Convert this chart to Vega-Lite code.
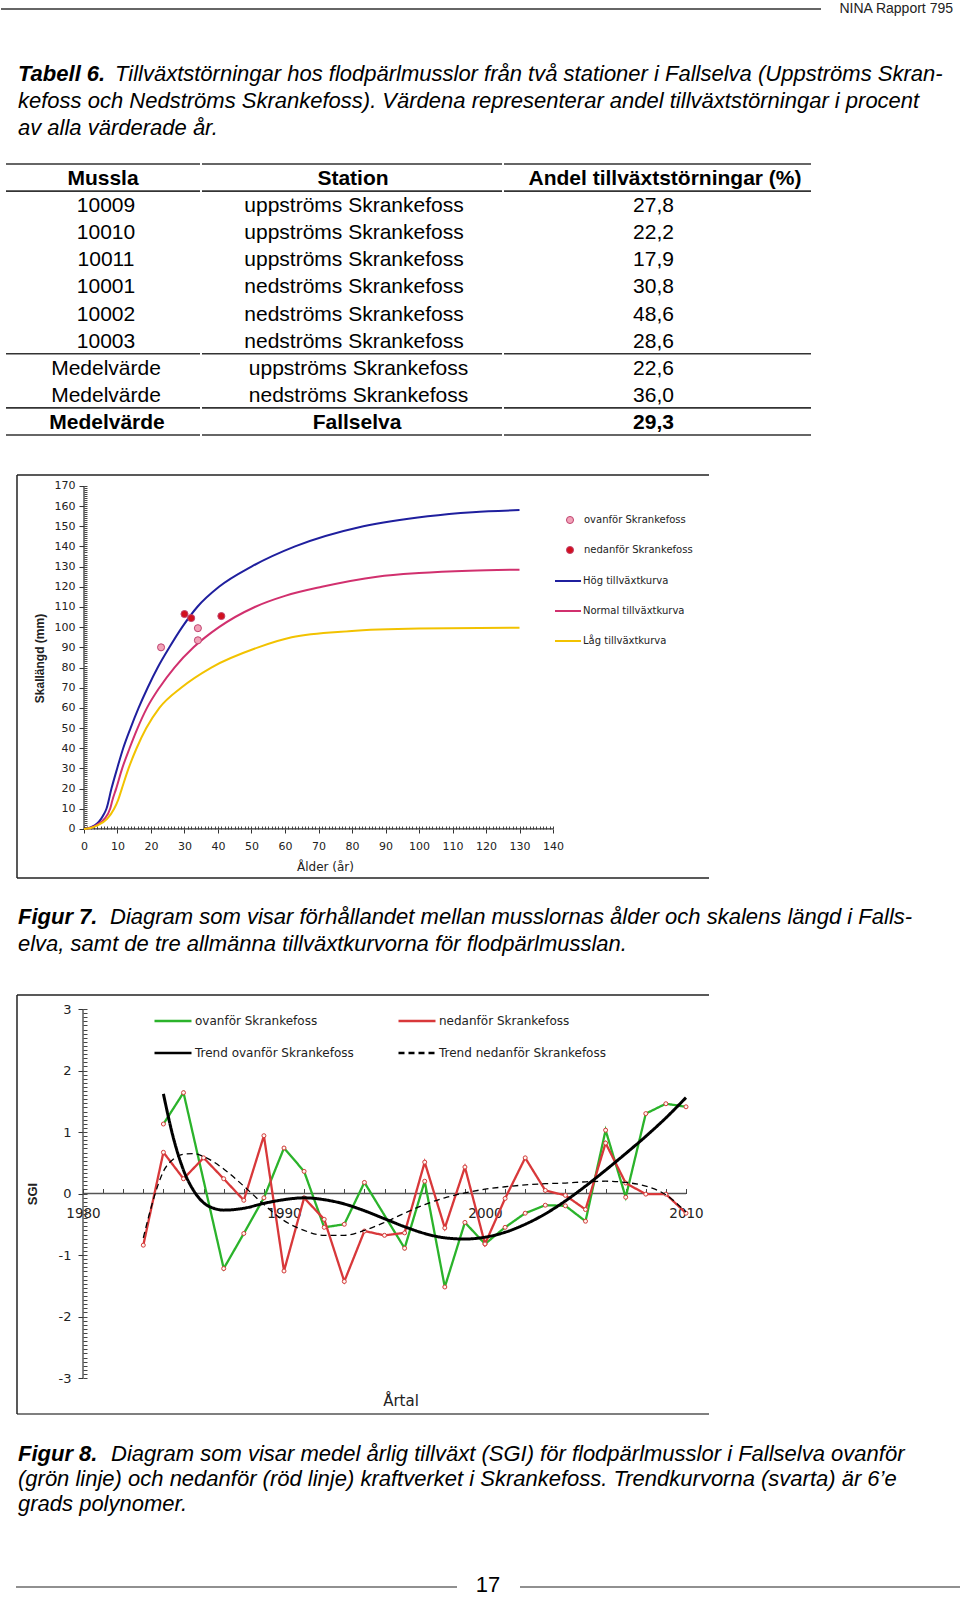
{
"$schema": "https://vega.github.io/schema/vega-lite/v6.json",
"padding": 0,
"background": "white",
"bounds": "flush",
"spacing": 0,
"config": {"view": {"stroke": null}, "axis": {"grid": false}, "text": {"font": "Liberation Sans"}},
"resolve": {"scale": {"stroke": "independent", "strokeDash": "independent", "fill": "independent", "x": "independent", "y": "independent"}, "legend": {"stroke": "independent", "strokeDash": "independent", "fill": "independent"}},
"datasets": {
"tabell": [
{"nr":1,"Mussla":"Mussla","Station":"Station","Andel":"Andel tillväxtstörningar (%)","typ":"rubrik","linje":1},
{"nr":2,"Mussla":"10009","Station":"uppströms Skrankefoss","Andel":"27,8","typ":"normal","linje":0},
{"nr":3,"Mussla":"10010","Station":"uppströms Skrankefoss","Andel":"22,2","typ":"normal","linje":0},
{"nr":4,"Mussla":"10011","Station":"uppströms Skrankefoss","Andel":"17,9","typ":"normal","linje":0},
{"nr":5,"Mussla":"10001","Station":"nedströms Skrankefoss","Andel":"30,8","typ":"normal","linje":0},
{"nr":6,"Mussla":"10002","Station":"nedströms Skrankefoss","Andel":"48,6","typ":"normal","linje":0},
{"nr":7,"Mussla":"10003","Station":"nedströms Skrankefoss","Andel":"28,6","typ":"normal","linje":1},
{"nr":8,"Mussla":"Medelvärde","Station":"uppströms Skrankefoss","Andel":"22,6","typ":"medel","linje":0},
{"nr":9,"Mussla":"Medelvärde","Station":"nedströms Skrankefoss","Andel":"36,0","typ":"medel","linje":1},
{"nr":10,"Mussla":"Medelvärde","Station":"Fallselva","Andel":"29,3","typ":"fet","linje":1}
],
"kurvor": [
{"alder":0,"langd":0,"kurva":"Hög tillväxtkurva"},{"alder":2,"langd":0.8,"kurva":"Hög tillväxtkurva"},{"alder":4,"langd":2.8,"kurva":"Hög tillväxtkurva"},{"alder":5.1,"langd":5,"kurva":"Hög tillväxtkurva"},{"alder":6,"langd":7.5,"kurva":"Hög tillväxtkurva"},{"alder":6.7,"langd":10,"kurva":"Hög tillväxtkurva"},{"alder":8.2,"langd":20,"kurva":"Hög tillväxtkurva"},{"alder":9.9,"langd":30,"kurva":"Hög tillväxtkurva"},{"alder":11.7,"langd":40,"kurva":"Hög tillväxtkurva"},{"alder":13.9,"langd":50,"kurva":"Hög tillväxtkurva"},{"alder":16.3,"langd":60,"kurva":"Hög tillväxtkurva"},{"alder":19,"langd":70,"kurva":"Hög tillväxtkurva"},{"alder":22,"langd":80,"kurva":"Hög tillväxtkurva"},{"alder":25.5,"langd":90,"kurva":"Hög tillväxtkurva"},{"alder":29.3,"langd":100,"kurva":"Hög tillväxtkurva"},{"alder":33.8,"langd":110,"kurva":"Hög tillväxtkurva"},{"alder":40.3,"langd":120,"kurva":"Hög tillväxtkurva"},{"alder":50,"langd":130,"kurva":"Hög tillväxtkurva"},{"alder":63,"langd":140,"kurva":"Hög tillväxtkurva"},{"alder":83.4,"langd":150,"kurva":"Hög tillväxtkurva"},{"alder":102.6,"langd":155,"kurva":"Hög tillväxtkurva"},{"alder":116,"langd":157,"kurva":"Hög tillväxtkurva"},{"alder":130,"langd":158,"kurva":"Hög tillväxtkurva"},
{"alder":0,"langd":0,"kurva":"Normal tillväxtkurva"},{"alder":2,"langd":0.6,"kurva":"Normal tillväxtkurva"},{"alder":4,"langd":2.2,"kurva":"Normal tillväxtkurva"},{"alder":6.1,"langd":5,"kurva":"Normal tillväxtkurva"},{"alder":7.8,"langd":10,"kurva":"Normal tillväxtkurva"},{"alder":8.5,"langd":14.4,"kurva":"Normal tillväxtkurva"},{"alder":9.6,"langd":20,"kurva":"Normal tillväxtkurva"},{"alder":11.4,"langd":30,"kurva":"Normal tillväxtkurva"},{"alder":13.6,"langd":40,"kurva":"Normal tillväxtkurva"},{"alder":16,"langd":50,"kurva":"Normal tillväxtkurva"},{"alder":18.8,"langd":60,"kurva":"Normal tillväxtkurva"},{"alder":22.5,"langd":70,"kurva":"Normal tillväxtkurva"},{"alder":27,"langd":80,"kurva":"Normal tillväxtkurva"},{"alder":32.7,"langd":90,"kurva":"Normal tillväxtkurva"},{"alder":40.3,"langd":100,"kurva":"Normal tillväxtkurva"},{"alder":51,"langd":110,"kurva":"Normal tillväxtkurva"},{"alder":60,"langd":115.5,"kurva":"Normal tillväxtkurva"},{"alder":71,"langd":120,"kurva":"Normal tillväxtkurva"},{"alder":87.5,"langd":125,"kurva":"Normal tillväxtkurva"},{"alder":100,"langd":126.8,"kurva":"Normal tillväxtkurva"},{"alder":115,"langd":128,"kurva":"Normal tillväxtkurva"},{"alder":130,"langd":128.5,"kurva":"Normal tillväxtkurva"},
{"alder":0,"langd":0,"kurva":"Låg tillväxtkurva"},{"alder":2,"langd":0.5,"kurva":"Låg tillväxtkurva"},{"alder":4,"langd":1.8,"kurva":"Låg tillväxtkurva"},{"alder":6.9,"langd":5,"kurva":"Låg tillväxtkurva"},{"alder":9,"langd":10,"kurva":"Låg tillväxtkurva"},{"alder":10.2,"langd":14.4,"kurva":"Låg tillväxtkurva"},{"alder":11.3,"langd":20,"kurva":"Låg tillväxtkurva"},{"alder":13.3,"langd":30,"kurva":"Låg tillväxtkurva"},{"alder":15.7,"langd":40,"kurva":"Låg tillväxtkurva"},{"alder":18.6,"langd":50,"kurva":"Låg tillväxtkurva"},{"alder":22.5,"langd":60,"kurva":"Låg tillväxtkurva"},{"alder":29,"langd":70,"kurva":"Låg tillväxtkurva"},{"alder":38,"langd":80,"kurva":"Låg tillväxtkurva"},{"alder":52,"langd":90,"kurva":"Låg tillväxtkurva"},{"alder":62,"langd":95,"kurva":"Låg tillväxtkurva"},{"alder":79,"langd":98,"kurva":"Låg tillväxtkurva"},{"alder":100,"langd":99.3,"kurva":"Låg tillväxtkurva"},{"alder":130,"langd":99.7,"kurva":"Låg tillväxtkurva"}
],
"musslor": [
{"alder":23,"langd":90,"grupp":"ovanför Skrankefoss"},
{"alder":34,"langd":99.5,"grupp":"ovanför Skrankefoss"},
{"alder":34,"langd":93.5,"grupp":"ovanför Skrankefoss"},
{"alder":30,"langd":106.5,"grupp":"nedanför Skrankefoss"},
{"alder":32,"langd":104.5,"grupp":"nedanför Skrankefoss"},
{"alder":41,"langd":105.5,"grupp":"nedanför Skrankefoss"}
],
"sgi": [
{"ar":1984,"sgi":1.13,"serie":"ovanför Skrankefoss"},{"ar":1985,"sgi":1.64,"serie":"ovanför Skrankefoss"},{"ar":1987,"sgi":-1.22,"serie":"ovanför Skrankefoss"},{"ar":1988,"sgi":-0.65,"serie":"ovanför Skrankefoss"},{"ar":1989,"sgi":-0.07,"serie":"ovanför Skrankefoss"},{"ar":1990,"sgi":0.74,"serie":"ovanför Skrankefoss"},{"ar":1991,"sgi":0.36,"serie":"ovanför Skrankefoss"},{"ar":1992,"sgi":-0.55,"serie":"ovanför Skrankefoss"},{"ar":1993,"sgi":-0.5,"serie":"ovanför Skrankefoss"},{"ar":1994,"sgi":0.18,"serie":"ovanför Skrankefoss"},{"ar":1996,"sgi":-0.89,"serie":"ovanför Skrankefoss"},{"ar":1997,"sgi":0.2,"serie":"ovanför Skrankefoss"},{"ar":1998,"sgi":-1.52,"serie":"ovanför Skrankefoss"},{"ar":1999,"sgi":-0.47,"serie":"ovanför Skrankefoss"},{"ar":2000,"sgi":-0.82,"serie":"ovanför Skrankefoss"},{"ar":2001,"sgi":-0.55,"serie":"ovanför Skrankefoss"},{"ar":2002,"sgi":-0.32,"serie":"ovanför Skrankefoss"},{"ar":2003,"sgi":-0.19,"serie":"ovanför Skrankefoss"},{"ar":2004,"sgi":-0.2,"serie":"ovanför Skrankefoss"},{"ar":2005,"sgi":-0.45,"serie":"ovanför Skrankefoss"},{"ar":2006,"sgi":1.03,"serie":"ovanför Skrankefoss"},{"ar":2007,"sgi":-0.06,"serie":"ovanför Skrankefoss"},{"ar":2008,"sgi":1.3,"serie":"ovanför Skrankefoss"},{"ar":2009,"sgi":1.46,"serie":"ovanför Skrankefoss"},{"ar":2010,"sgi":1.41,"serie":"ovanför Skrankefoss"},
{"ar":1983,"sgi":-0.84,"serie":"nedanför Skrankefoss"},{"ar":1984,"sgi":0.67,"serie":"nedanför Skrankefoss"},{"ar":1985,"sgi":0.24,"serie":"nedanför Skrankefoss"},{"ar":1986,"sgi":0.58,"serie":"nedanför Skrankefoss"},{"ar":1987,"sgi":0.24,"serie":"nedanför Skrankefoss"},{"ar":1988,"sgi":-0.11,"serie":"nedanför Skrankefoss"},{"ar":1989,"sgi":0.94,"serie":"nedanför Skrankefoss"},{"ar":1990,"sgi":-1.26,"serie":"nedanför Skrankefoss"},{"ar":1991,"sgi":-0.07,"serie":"nedanför Skrankefoss"},{"ar":1992,"sgi":-0.42,"serie":"nedanför Skrankefoss"},{"ar":1993,"sgi":-1.43,"serie":"nedanför Skrankefoss"},{"ar":1994,"sgi":-0.61,"serie":"nedanför Skrankefoss"},{"ar":1995,"sgi":-0.68,"serie":"nedanför Skrankefoss"},{"ar":1996,"sgi":-0.64,"serie":"nedanför Skrankefoss"},{"ar":1997,"sgi":0.51,"serie":"nedanför Skrankefoss"},{"ar":1998,"sgi":-0.56,"serie":"nedanför Skrankefoss"},{"ar":1999,"sgi":0.43,"serie":"nedanför Skrankefoss"},{"ar":2000,"sgi":-0.82,"serie":"nedanför Skrankefoss"},{"ar":2001,"sgi":-0.08,"serie":"nedanför Skrankefoss"},{"ar":2002,"sgi":0.58,"serie":"nedanför Skrankefoss"},{"ar":2003,"sgi":0.05,"serie":"nedanför Skrankefoss"},{"ar":2004,"sgi":-0.03,"serie":"nedanför Skrankefoss"},{"ar":2005,"sgi":-0.26,"serie":"nedanför Skrankefoss"},{"ar":2006,"sgi":0.82,"serie":"nedanför Skrankefoss"},{"ar":2007,"sgi":0.17,"serie":"nedanför Skrankefoss"},{"ar":2008,"sgi":-0.01,"serie":"nedanför Skrankefoss"},{"ar":2009,"sgi":-0.01,"serie":"nedanför Skrankefoss"},{"ar":2010,"sgi":-0.32,"serie":"nedanför Skrankefoss"}
],
"trendOvan": [
{"ar":1984,"sgi":1.62,"serie":"Trend ovanför Skrankefoss"},{"ar":1984.5,"sgi":0.9,"serie":"Trend ovanför Skrankefoss"},{"ar":1985,"sgi":0.38,"serie":"Trend ovanför Skrankefoss"},{"ar":1985.5,"sgi":0.05,"serie":"Trend ovanför Skrankefoss"},{"ar":1986,"sgi":-0.15,"serie":"Trend ovanför Skrankefoss"},{"ar":1986.5,"sgi":-0.24,"serie":"Trend ovanför Skrankefoss"},{"ar":1987,"sgi":-0.27,"serie":"Trend ovanför Skrankefoss"},{"ar":1988,"sgi":-0.24,"serie":"Trend ovanför Skrankefoss"},{"ar":1989,"sgi":-0.16,"serie":"Trend ovanför Skrankefoss"},{"ar":1990,"sgi":-0.1,"serie":"Trend ovanför Skrankefoss"},{"ar":1991,"sgi":-0.07,"serie":"Trend ovanför Skrankefoss"},{"ar":1992,"sgi":-0.1,"serie":"Trend ovanför Skrankefoss"},{"ar":1993,"sgi":-0.17,"serie":"Trend ovanför Skrankefoss"},{"ar":1994,"sgi":-0.28,"serie":"Trend ovanför Skrankefoss"},{"ar":1995,"sgi":-0.41,"serie":"Trend ovanför Skrankefoss"},{"ar":1996,"sgi":-0.54,"serie":"Trend ovanför Skrankefoss"},{"ar":1997,"sgi":-0.65,"serie":"Trend ovanför Skrankefoss"},{"ar":1998,"sgi":-0.72,"serie":"Trend ovanför Skrankefoss"},{"ar":1999,"sgi":-0.74,"serie":"Trend ovanför Skrankefoss"},{"ar":2000,"sgi":-0.71,"serie":"Trend ovanför Skrankefoss"},{"ar":2001,"sgi":-0.63,"serie":"Trend ovanför Skrankefoss"},{"ar":2002,"sgi":-0.5,"serie":"Trend ovanför Skrankefoss"},{"ar":2003,"sgi":-0.33,"serie":"Trend ovanför Skrankefoss"},{"ar":2004,"sgi":-0.12,"serie":"Trend ovanför Skrankefoss"},{"ar":2005,"sgi":0.12,"serie":"Trend ovanför Skrankefoss"},{"ar":2006,"sgi":0.38,"serie":"Trend ovanför Skrankefoss"},{"ar":2007,"sgi":0.65,"serie":"Trend ovanför Skrankefoss"},{"ar":2008,"sgi":0.93,"serie":"Trend ovanför Skrankefoss"},{"ar":2009,"sgi":1.23,"serie":"Trend ovanför Skrankefoss"},{"ar":2010,"sgi":1.56,"serie":"Trend ovanför Skrankefoss"}
],
"trendNedan": [
{"ar":1983,"sgi":-0.72,"serie":"Trend nedanför Skrankefoss"},{"ar":1983.5,"sgi":-0.1,"serie":"Trend nedanför Skrankefoss"},{"ar":1984,"sgi":0.36,"serie":"Trend nedanför Skrankefoss"},{"ar":1984.5,"sgi":0.56,"serie":"Trend nedanför Skrankefoss"},{"ar":1985,"sgi":0.64,"serie":"Trend nedanför Skrankefoss"},{"ar":1985.5,"sgi":0.65,"serie":"Trend nedanför Skrankefoss"},{"ar":1986,"sgi":0.6,"serie":"Trend nedanför Skrankefoss"},{"ar":1987,"sgi":0.4,"serie":"Trend nedanför Skrankefoss"},{"ar":1988,"sgi":0.12,"serie":"Trend nedanför Skrankefoss"},{"ar":1989,"sgi":-0.18,"serie":"Trend nedanför Skrankefoss"},{"ar":1990,"sgi":-0.44,"serie":"Trend nedanför Skrankefoss"},{"ar":1991,"sgi":-0.6,"serie":"Trend nedanför Skrankefoss"},{"ar":1992,"sgi":-0.68,"serie":"Trend nedanför Skrankefoss"},{"ar":1993,"sgi":-0.68,"serie":"Trend nedanför Skrankefoss"},{"ar":1994,"sgi":-0.6,"serie":"Trend nedanför Skrankefoss"},{"ar":1995,"sgi":-0.47,"serie":"Trend nedanför Skrankefoss"},{"ar":1996,"sgi":-0.32,"serie":"Trend nedanför Skrankefoss"},{"ar":1997,"sgi":-0.18,"serie":"Trend nedanför Skrankefoss"},{"ar":1998,"sgi":-0.07,"serie":"Trend nedanför Skrankefoss"},{"ar":1999,"sgi":0.01,"serie":"Trend nedanför Skrankefoss"},{"ar":2000,"sgi":0.07,"serie":"Trend nedanför Skrankefoss"},{"ar":2001,"sgi":0.11,"serie":"Trend nedanför Skrankefoss"},{"ar":2002,"sgi":0.14,"serie":"Trend nedanför Skrankefoss"},{"ar":2003,"sgi":0.16,"serie":"Trend nedanför Skrankefoss"},{"ar":2004,"sgi":0.17,"serie":"Trend nedanför Skrankefoss"},{"ar":2005,"sgi":0.19,"serie":"Trend nedanför Skrankefoss"},{"ar":2006,"sgi":0.2,"serie":"Trend nedanför Skrankefoss"},{"ar":2007,"sgi":0.18,"serie":"Trend nedanför Skrankefoss"},{"ar":2008,"sgi":0.12,"serie":"Trend nedanför Skrankefoss"},{"ar":2009,"sgi":-0.02,"serie":"Trend nedanför Skrankefoss"},{"ar":2010,"sgi":-0.3,"serie":"Trend nedanför Skrankefoss"}
]
},
"vconcat": [
{"width": 960, "height": 18, "data": {"values": [{"t": "NINA Rapport 795"}]}, "layer": [
  {"mark": {"type": "rule", "color": "#333", "strokeWidth": 1.5}, "encoding": {"x": {"datum": 0, "type": "quantitative", "scale": {"domain": [0, 960], "nice": false, "zero": false}, "axis": null}, "x2": {"datum": 820}, "y": {"datum": 0, "type": "quantitative", "scale": {"domain": [-1, 1]}, "axis": null}}},
  {"mark": {"type": "text", "font": "Liberation Sans", "fontSize": 14, "color": "#222", "baseline": "middle", "align": "right"}, "encoding": {"x": {"datum": 952, "type": "quantitative", "scale": {"domain": [0, 960], "nice": false, "zero": false}, "axis": null}, "y": {"datum": 0, "type": "quantitative", "scale": {"domain": [-1, 1]}, "axis": null}, "text": {"field": "t"}}}
]},
{"width": 960, "height": 42, "data": {"values": []}, "mark": "point"},
{"width": 960, "height": 81, "layer": [
  {"data": {"values": [{"rad": 1, "t": "Tabell 6."}]}, "mark": {"type": "text", "align": "left", "baseline": "middle", "font": "Liberation Sans", "fontSize": 22, "fontStyle": "italic", "fontWeight": "bold", "color": "#000"}, "encoding": {"x": {"datum": 17, "type": "quantitative", "scale": {"domain": [0, 960], "nice": false, "zero": false}, "axis": null}, "y": {"field": "rad", "type": "ordinal", "scale": {"domain": [1, 2, 3]}, "axis": null}, "text": {"field": "t"}}},
  {"data": {"values": [{"rad": 1, "t": "Tillväxtstörningar hos flodpärlmusslor från två stationer i Fallselva (Uppströms Skran-"}]}, "mark": {"type": "text", "align": "left", "baseline": "middle", "font": "Liberation Sans", "fontSize": 22, "fontStyle": "italic", "color": "#000"}, "encoding": {"x": {"datum": 114, "type": "quantitative", "scale": {"domain": [0, 960], "nice": false, "zero": false}, "axis": null}, "y": {"field": "rad", "type": "ordinal", "scale": {"domain": [1, 2, 3]}, "axis": null}, "text": {"field": "t"}}},
  {"data": {"values": [{"rad": 2, "t": "kefoss och Nedströms Skrankefoss). Värdena representerar andel tillväxtstörningar i procent"}, {"rad": 3, "t": "av alla värderade år."}]}, "mark": {"type": "text", "align": "left", "baseline": "middle", "font": "Liberation Sans", "fontSize": 22, "fontStyle": "italic", "color": "#000"}, "encoding": {"x": {"datum": 17, "type": "quantitative", "scale": {"domain": [0, 960], "nice": false, "zero": false}, "axis": null}, "y": {"field": "rad", "type": "ordinal", "scale": {"domain": [1, 2, 3]}, "axis": null}, "text": {"field": "t"}}}
]},
{"width": 960, "height": 23, "data": {"values": []}, "mark": "point"},
{"width": 960, "height": 271, "data": {"name": "tabell"}, "layer": [
  {"transform": [{"filter": {"field": "typ", "equal": "rubrik"}}], "mark": {"type": "text", "fontSize": 21, "fontWeight": "bold", "color": "#000", "baseline": "middle", "dy": 1.5}, "encoding": {"x": {"datum": 102, "type": "quantitative", "scale": {"domain": [0, 960], "nice": false, "zero": false}, "axis": null}, "y": {"field": "nr", "type": "ordinal", "scale": {"type": "band", "domain": [1,2,3,4,5,6,7,8,9,10], "paddingInner": 0, "paddingOuter": 0}, "axis": null}, "text": {"field": "Mussla"}}},
  {"transform": [{"filter": {"field": "typ", "oneOf": ["normal", "medel"]}}], "mark": {"type": "text", "fontSize": 21, "color": "#000", "baseline": "middle", "dy": 1.5}, "encoding": {"x": {"datum": 105, "type": "quantitative", "scale": {"domain": [0, 960], "nice": false, "zero": false}, "axis": null}, "y": {"field": "nr", "type": "ordinal", "scale": {"type": "band", "domain": [1,2,3,4,5,6,7,8,9,10], "paddingInner": 0, "paddingOuter": 0}, "axis": null}, "text": {"field": "Mussla"}}},
  {"transform": [{"filter": {"field": "typ", "equal": "fet"}}], "mark": {"type": "text", "fontSize": 21, "fontWeight": "bold", "color": "#000", "baseline": "middle", "dy": 1.5}, "encoding": {"x": {"datum": 106, "type": "quantitative", "scale": {"domain": [0, 960], "nice": false, "zero": false}, "axis": null}, "y": {"field": "nr", "type": "ordinal", "scale": {"type": "band", "domain": [1,2,3,4,5,6,7,8,9,10], "paddingInner": 0, "paddingOuter": 0}, "axis": null}, "text": {"field": "Mussla"}}},
  {"transform": [{"filter": {"field": "typ", "equal": "rubrik"}}], "mark": {"type": "text", "fontSize": 21, "fontWeight": "bold", "color": "#000", "baseline": "middle", "dy": 1.5}, "encoding": {"x": {"datum": 352, "type": "quantitative", "scale": {"domain": [0, 960], "nice": false, "zero": false}, "axis": null}, "y": {"field": "nr", "type": "ordinal", "scale": {"type": "band", "domain": [1,2,3,4,5,6,7,8,9,10], "paddingInner": 0, "paddingOuter": 0}, "axis": null}, "text": {"field": "Station"}}},
  {"transform": [{"filter": {"field": "typ", "equal": "normal"}}], "mark": {"type": "text", "fontSize": 21, "color": "#000", "baseline": "middle", "dy": 1.5}, "encoding": {"x": {"datum": 353, "type": "quantitative", "scale": {"domain": [0, 960], "nice": false, "zero": false}, "axis": null}, "y": {"field": "nr", "type": "ordinal", "scale": {"type": "band", "domain": [1,2,3,4,5,6,7,8,9,10], "paddingInner": 0, "paddingOuter": 0}, "axis": null}, "text": {"field": "Station"}}},
  {"transform": [{"filter": {"field": "typ", "equal": "medel"}}], "mark": {"type": "text", "fontSize": 21, "color": "#000", "baseline": "middle", "dy": 1.5}, "encoding": {"x": {"datum": 357.5, "type": "quantitative", "scale": {"domain": [0, 960], "nice": false, "zero": false}, "axis": null}, "y": {"field": "nr", "type": "ordinal", "scale": {"type": "band", "domain": [1,2,3,4,5,6,7,8,9,10], "paddingInner": 0, "paddingOuter": 0}, "axis": null}, "text": {"field": "Station"}}},
  {"transform": [{"filter": {"field": "typ", "equal": "fet"}}], "mark": {"type": "text", "fontSize": 21, "fontWeight": "bold", "color": "#000", "baseline": "middle", "dy": 1.5}, "encoding": {"x": {"datum": 356, "type": "quantitative", "scale": {"domain": [0, 960], "nice": false, "zero": false}, "axis": null}, "y": {"field": "nr", "type": "ordinal", "scale": {"type": "band", "domain": [1,2,3,4,5,6,7,8,9,10], "paddingInner": 0, "paddingOuter": 0}, "axis": null}, "text": {"field": "Station"}}},
  {"transform": [{"filter": {"field": "typ", "equal": "rubrik"}}], "mark": {"type": "text", "fontSize": 21, "fontWeight": "bold", "color": "#000", "baseline": "middle", "dy": 1.5}, "encoding": {"x": {"datum": 664, "type": "quantitative", "scale": {"domain": [0, 960], "nice": false, "zero": false}, "axis": null}, "y": {"field": "nr", "type": "ordinal", "scale": {"type": "band", "domain": [1,2,3,4,5,6,7,8,9,10], "paddingInner": 0, "paddingOuter": 0}, "axis": null}, "text": {"field": "Andel"}}},
  {"transform": [{"filter": {"field": "typ", "oneOf": ["normal", "medel"]}}], "mark": {"type": "text", "fontSize": 21, "color": "#000", "baseline": "middle", "dy": 1.5}, "encoding": {"x": {"datum": 652.5, "type": "quantitative", "scale": {"domain": [0, 960], "nice": false, "zero": false}, "axis": null}, "y": {"field": "nr", "type": "ordinal", "scale": {"type": "band", "domain": [1,2,3,4,5,6,7,8,9,10], "paddingInner": 0, "paddingOuter": 0}, "axis": null}, "text": {"field": "Andel"}}},
  {"transform": [{"filter": {"field": "typ", "equal": "fet"}}], "mark": {"type": "text", "fontSize": 21, "fontWeight": "bold", "color": "#000", "baseline": "middle", "dy": 1.5}, "encoding": {"x": {"datum": 652.5, "type": "quantitative", "scale": {"domain": [0, 960], "nice": false, "zero": false}, "axis": null}, "y": {"field": "nr", "type": "ordinal", "scale": {"type": "band", "domain": [1,2,3,4,5,6,7,8,9,10], "paddingInner": 0, "paddingOuter": 0}, "axis": null}, "text": {"field": "Andel"}}},
  {"transform": [{"filter": {"field": "nr", "equal": 1}}], "mark": {"type": "rule", "color": "#333", "strokeWidth": 1.6}, "encoding": {"x": {"datum": 5, "type": "quantitative", "scale": {"domain": [0, 960], "nice": false, "zero": false}, "axis": null}, "x2": {"datum": 199}, "y": {"field": "nr", "type": "ordinal", "bandPosition": 0, "scale": {"type": "band", "domain": [1,2,3,4,5,6,7,8,9,10], "paddingInner": 0, "paddingOuter": 0}, "axis": null}}},
  {"transform": [{"filter": {"field": "nr", "equal": 1}}], "mark": {"type": "rule", "color": "#333", "strokeWidth": 1.6}, "encoding": {"x": {"datum": 201, "type": "quantitative", "scale": {"domain": [0, 960], "nice": false, "zero": false}, "axis": null}, "x2": {"datum": 501}, "y": {"field": "nr", "type": "ordinal", "bandPosition": 0, "scale": {"type": "band", "domain": [1,2,3,4,5,6,7,8,9,10], "paddingInner": 0, "paddingOuter": 0}, "axis": null}}},
  {"transform": [{"filter": {"field": "nr", "equal": 1}}], "mark": {"type": "rule", "color": "#333", "strokeWidth": 1.6}, "encoding": {"x": {"datum": 503, "type": "quantitative", "scale": {"domain": [0, 960], "nice": false, "zero": false}, "axis": null}, "x2": {"datum": 810}, "y": {"field": "nr", "type": "ordinal", "bandPosition": 0, "scale": {"type": "band", "domain": [1,2,3,4,5,6,7,8,9,10], "paddingInner": 0, "paddingOuter": 0}, "axis": null}}},
  {"transform": [{"filter": {"field": "linje", "equal": 1}}], "mark": {"type": "rule", "color": "#333", "strokeWidth": 1.6}, "encoding": {"x": {"datum": 5, "type": "quantitative", "scale": {"domain": [0, 960], "nice": false, "zero": false}, "axis": null}, "x2": {"datum": 199}, "y": {"field": "nr", "type": "ordinal", "bandPosition": 1, "scale": {"type": "band", "domain": [1,2,3,4,5,6,7,8,9,10], "paddingInner": 0, "paddingOuter": 0}, "axis": null}}},
  {"transform": [{"filter": {"field": "linje", "equal": 1}}], "mark": {"type": "rule", "color": "#333", "strokeWidth": 1.6}, "encoding": {"x": {"datum": 201, "type": "quantitative", "scale": {"domain": [0, 960], "nice": false, "zero": false}, "axis": null}, "x2": {"datum": 501}, "y": {"field": "nr", "type": "ordinal", "bandPosition": 1, "scale": {"type": "band", "domain": [1,2,3,4,5,6,7,8,9,10], "paddingInner": 0, "paddingOuter": 0}, "axis": null}}},
  {"transform": [{"filter": {"field": "linje", "equal": 1}}], "mark": {"type": "rule", "color": "#333", "strokeWidth": 1.6}, "encoding": {"x": {"datum": 503, "type": "quantitative", "scale": {"domain": [0, 960], "nice": false, "zero": false}, "axis": null}, "x2": {"datum": 810}, "y": {"field": "nr", "type": "ordinal", "bandPosition": 1, "scale": {"type": "band", "domain": [1,2,3,4,5,6,7,8,9,10], "paddingInner": 0, "paddingOuter": 0}, "axis": null}}}
]},
{"width": 960, "height": 40, "data": {"values": []}, "mark": "point"},
{"width": 708, "height": 403, "layer": [
  {"data": {"values": [{}]}, "mark": {"type": "rule", "color": "#222", "strokeWidth": 1.5}, "encoding": {"x": {"datum": -20, "type": "quantitative", "scale": {"domain": [-24.776, 186.567], "nice": false, "zero": false}, "axis": null}, "x2": {"datum": 186.567}, "y": {"datum": 175.4, "type": "quantitative", "scale": {"domain": [-24.3, 175.4], "nice": false, "zero": false}, "axis": null}}},
  {"data": {"values": [{}]}, "mark": {"type": "rule", "color": "#222", "strokeWidth": 1.5}, "encoding": {"x": {"datum": -20, "type": "quantitative", "scale": {"domain": [-24.776, 186.567], "nice": false, "zero": false}, "axis": null}, "x2": {"datum": 186.567}, "y": {"datum": -24.3, "type": "quantitative", "scale": {"domain": [-24.3, 175.4], "nice": false, "zero": false}, "axis": null}}},
  {"data": {"values": [{}]}, "mark": {"type": "rule", "color": "#222", "strokeWidth": 1.5}, "encoding": {"x": {"datum": -20, "type": "quantitative", "scale": {"domain": [-24.776, 186.567], "nice": false, "zero": false}, "axis": null}}},
  {"data": {"values": [{}]}, "mark": {"type": "rule", "color": "#333", "strokeWidth": 1.2}, "encoding": {"x": {"datum": 0, "type": "quantitative", "scale": {"domain": [-24.776, 186.567], "nice": false, "zero": false}, "axis": null}, "y": {"datum": 0, "type": "quantitative", "scale": {"domain": [-24.3, 175.4], "nice": false, "zero": false}, "axis": null}, "y2": {"datum": 170}}},
  {"data": {"values": [{}]}, "mark": {"type": "rule", "color": "#333", "strokeWidth": 1.2}, "encoding": {"x": {"datum": 0, "type": "quantitative", "scale": {"domain": [-24.776, 186.567], "nice": false, "zero": false}, "axis": null}, "x2": {"datum": 140}, "y": {"datum": 0, "type": "quantitative", "scale": {"domain": [-24.3, 175.4], "nice": false, "zero": false}, "axis": null}}},
  {"data": {"name": "kurvor"}, "mark": {"type": "line", "strokeWidth": 2, "interpolate": "monotone"},
   "encoding": {
    "x": {"field": "alder", "type": "quantitative", "scale": {"domain": [-24.776, 186.567], "nice": false, "zero": false},
          "axis": {"orient": "bottom", "offset": -49, "values": [0,10,20,30,40,50,60,70,80,90,100,110,120,130,140], "domain": false, "ticks": true, "tickSize": 4, "tickColor": "#333", "tickWidth": 1, "labelFont": "DejaVu Sans", "labelFontSize": 11, "labelColor": "#222", "labelPadding": 7, "labelFlush": false, "labelOverlap": false, "grid": false, "title": "Ålder (år)", "titleFont": "DejaVu Sans", "titleFontSize": 12, "titleFontWeight": "normal", "titleColor": "#222", "titleX": 324, "titleY": 37, "titleAlign": "center", "titleBaseline": "middle", "titleAngle": 0}},
    "y": {"field": "langd", "type": "quantitative", "scale": {"domain": [-24.3, 175.4], "nice": false, "zero": false},
          "axis": {"orient": "left", "offset": -83, "values": [0,10,20,30,40,50,60,70,80,90,100,110,120,130,140,150,160,170], "domain": false, "ticks": true, "tickSize": 5, "tickColor": "#333", "tickWidth": 1, "labelFont": "DejaVu Sans", "labelFontSize": 11, "labelColor": "#222", "labelPadding": 4, "labelFlush": false, "labelOverlap": false, "grid": false, "title": "Skallängd (mm)", "titleFont": "Liberation Sans", "titleFontSize": 12, "titleFontWeight": "bold", "titleColor": "#222", "titleX": -45, "titleY": 183, "titleAngle": 270, "titleAlign": "center", "titleBaseline": "middle"}},
    "stroke": {"field": "kurva", "type": "nominal", "scale": {"domain": ["Hög tillväxtkurva", "Normal tillväxtkurva", "Låg tillväxtkurva"], "range": ["#1f1f9e", "#d1306e", "#f2c200"]},
          "legend": {"orient": "none", "legendX": 553, "legendY": 92, "title": null, "padding": 0, "rowPadding": 11, "labelFont": "DejaVu Sans", "labelFontSize": 10, "labelColor": "#222", "labelOffset": 1, "symbolType": "stroke", "symbolSize": 676, "symbolStrokeWidth": 2}}
   }},
  {"data": {"name": "musslor"}, "mark": {"type": "circle", "size": 50, "stroke": "#c04470", "strokeWidth": 1, "opacity": 1},
   "encoding": {
    "x": {"field": "alder", "type": "quantitative", "scale": {"domain": [-24.776, 186.567], "nice": false, "zero": false},
          "axis": {"orient": "top", "offset": -354, "values": [0,1,2,3,4,5,6,7,8,9,10,11,12,13,14,15,16,17,18,19,20,21,22,23,24,25,26,27,28,29,30,31,32,33,34,35,36,37,38,39,40,41,42,43,44,45,46,47,48,49,50,51,52,53,54,55,56,57,58,59,60,61,62,63,64,65,66,67,68,69,70,71,72,73,74,75,76,77,78,79,80,81,82,83,84,85,86,87,88,89,90,91,92,93,94,95,96,97,98,99,100,101,102,103,104,105,106,107,108,109,110,111,112,113,114,115,116,117,118,119,120,121,122,123,124,125,126,127,128,129,130,131,132,133,134,135,136,137,138,139,140], "domain": false, "labels": false, "ticks": true, "tickSize": 3, "tickColor": "#444", "tickWidth": 1, "grid": false, "title": null}},
    "y": {"field": "langd", "type": "quantitative", "scale": {"domain": [-24.3, 175.4], "nice": false, "zero": false},
          "axis": {"orient": "right", "offset": -625, "values": [0,1,2,3,4,5,6,7,8,9,10,11,12,13,14,15,16,17,18,19,20,21,22,23,24,25,26,27,28,29,30,31,32,33,34,35,36,37,38,39,40,41,42,43,44,45,46,47,48,49,50,51,52,53,54,55,56,57,58,59,60,61,62,63,64,65,66,67,68,69,70,71,72,73,74,75,76,77,78,79,80,81,82,83,84,85,86,87,88,89,90,91,92,93,94,95,96,97,98,99,100,101,102,103,104,105,106,107,108,109,110,111,112,113,114,115,116,117,118,119,120,121,122,123,124,125,126,127,128,129,130,131,132,133,134,135,136,137,138,139,140,141,142,143,144,145,146,147,148,149,150,151,152,153,154,155,156,157,158,159,160,161,162,163,164,165,166,167,168,169,170], "domain": false, "labels": false, "ticks": true, "tickSize": 3, "tickColor": "#444", "tickWidth": 1, "grid": false, "title": null}},
    "fill": {"field": "grupp", "type": "nominal", "scale": {"domain": ["ovanför Skrankefoss", "nedanför Skrankefoss"], "range": ["#f2a2b8", "#d2101e"]},
          "legend": {"orient": "none", "legendX": 564, "legendY": 40, "title": null, "padding": 0, "rowPadding": 18, "labelFont": "DejaVu Sans", "labelFontSize": 10, "labelColor": "#222", "labelOffset": 9, "symbolType": "circle", "symbolSize": 50, "symbolStrokeColor": "#c04470", "symbolStrokeWidth": 1, "symbolOpacity": 1}}
   }}
], "resolve": {"axis": {"x": "independent", "y": "independent"}}},
{"width": 960, "height": 26, "data": {"values": []}, "mark": "point"},
{"width": 960, "height": 53, "layer": [
  {"data": {"values": [{"rad": 1, "t": "Figur 7."}]}, "mark": {"type": "text", "align": "left", "baseline": "middle", "font": "Liberation Sans", "fontSize": 22, "fontStyle": "italic", "fontWeight": "bold", "color": "#000"}, "encoding": {"x": {"datum": 17, "type": "quantitative", "scale": {"domain": [0, 960], "nice": false, "zero": false}, "axis": null}, "y": {"field": "rad", "type": "ordinal", "scale": {"domain": [1, 2]}, "axis": null}, "text": {"field": "t"}}},
  {"data": {"values": [{"rad": 1, "t": "Diagram som visar förhållandet mellan musslornas ålder och skalens längd i Falls-"}]}, "mark": {"type": "text", "align": "left", "baseline": "middle", "font": "Liberation Sans", "fontSize": 22, "fontStyle": "italic", "color": "#000"}, "encoding": {"x": {"datum": 109, "type": "quantitative", "scale": {"domain": [0, 960], "nice": false, "zero": false}, "axis": null}, "y": {"field": "rad", "type": "ordinal", "scale": {"domain": [1, 2]}, "axis": null}, "text": {"field": "t"}}},
  {"data": {"values": [{"rad": 2, "t": "elva, samt de tre allmänna tillväxtkurvorna för flodpärlmusslan."}]}, "mark": {"type": "text", "align": "left", "baseline": "middle", "font": "Liberation Sans", "fontSize": 22, "fontStyle": "italic", "color": "#000"}, "encoding": {"x": {"datum": 17, "type": "quantitative", "scale": {"domain": [0, 960], "nice": false, "zero": false}, "axis": null}, "y": {"field": "rad", "type": "ordinal", "scale": {"domain": [1, 2]}, "axis": null}, "text": {"field": "t"}}}
]},
{"width": 960, "height": 38, "data": {"values": []}, "mark": "point"},
{"width": 708, "height": 419, "layer": [
  {"data": {"values": [{}]}, "mark": {"type": "rule", "color": "#222", "strokeWidth": 1.5}, "encoding": {"x": {"datum": 1976.716, "type": "quantitative", "scale": {"domain": [1975.92, 2011.144], "nice": false, "zero": false}, "axis": null}, "x2": {"datum": 2011.144}, "y": {"datum": 3.228, "type": "quantitative", "scale": {"domain": [-3.585, 3.228], "nice": false, "zero": false}, "axis": null}}},
  {"data": {"values": [{}]}, "mark": {"type": "rule", "color": "#555", "strokeWidth": 1.5}, "encoding": {"x": {"datum": 1976.716, "type": "quantitative", "scale": {"domain": [1975.92, 2011.144], "nice": false, "zero": false}, "axis": null}, "x2": {"datum": 2011.144}, "y": {"datum": -3.585, "type": "quantitative", "scale": {"domain": [-3.585, 3.228], "nice": false, "zero": false}, "axis": null}}},
  {"data": {"values": [{}]}, "mark": {"type": "rule", "color": "#222", "strokeWidth": 1.5}, "encoding": {"x": {"datum": 1976.716, "type": "quantitative", "scale": {"domain": [1975.92, 2011.144], "nice": false, "zero": false}, "axis": null}}},
  {"data": {"values": [{}]}, "mark": {"type": "rule", "color": "#555", "strokeWidth": 1.5}, "encoding": {"x": {"datum": 1980, "type": "quantitative", "scale": {"domain": [1975.92, 2011.144], "nice": false, "zero": false}, "axis": null}, "x2": {"datum": 2010}, "y": {"datum": 0, "type": "quantitative", "scale": {"domain": [-3.585, 3.228], "nice": false, "zero": false}, "axis": null}}},
  {"data": {"values": [{}]}, "mark": {"type": "rule", "color": "#444", "strokeWidth": 1.3}, "encoding": {"x": {"datum": 1980, "type": "quantitative", "scale": {"domain": [1975.92, 2011.144], "nice": false, "zero": false}, "axis": null}, "y": {"datum": -3, "type": "quantitative", "scale": {"domain": [-3.585, 3.228], "nice": false, "zero": false}, "axis": null}, "y2": {"datum": 3}}},
  {"data": {"name": "sgi"}, "mark": {"type": "line", "strokeWidth": 2.3},
   "encoding": {
    "x": {"field": "ar", "type": "quantitative", "scale": {"domain": [1975.92, 2011.144], "nice": false, "zero": false},
          "axis": {"orient": "bottom", "offset": -220.5, "values": [1980, 1990, 2000, 2010], "domain": false, "ticks": false, "tickSize": 0, "labelPadding": 13, "labelFont": "DejaVu Sans", "labelFontSize": 13.5, "labelColor": "#222", "labelExpr": "'' + datum.value", "labelFlush": false, "labelOverlap": false, "grid": false, "title": "Årtal", "titleFont": "DejaVu Sans", "titleFontSize": 15, "titleFontWeight": "normal", "titleColor": "#222", "titleX": 399.5, "titleY": 207, "titleAlign": "center", "titleBaseline": "middle", "titleAngle": 0}},
    "y": {"field": "sgi", "type": "quantitative", "scale": {"domain": [-3.585, 3.228], "nice": false, "zero": false},
          "axis": {"orient": "left", "offset": -82, "values": [-3, -2, -1, 0, 1, 2, 3], "domain": false, "ticks": true, "tickSize": 5, "tickColor": "#333", "tickWidth": 1, "labelFont": "DejaVu Sans", "labelFontSize": 13, "labelColor": "#222", "labelPadding": 7, "labelExpr": "'' + datum.value", "labelFlush": false, "labelOverlap": false, "grid": false, "title": "SGI", "titleFont": "Liberation Sans", "titleFontSize": 13, "titleFontWeight": "bold", "titleColor": "#222", "titleX": -51, "titleY": 198.5, "titleAngle": 270, "titleAlign": "center", "titleBaseline": "middle"}},
    "stroke": {"field": "serie", "type": "nominal", "scale": {"domain": ["ovanför Skrankefoss", "nedanför Skrankefoss", "Trend ovanför Skrankefoss", "Trend nedanför Skrankefoss"], "range": ["#2bb32b", "#d8383a", "#000000", "#000000"]},
          "legend": {"orient": "none", "legendX": 152, "legendY": 6, "direction": "horizontal", "title": null, "columns": 2, "columnPadding": 39, "rowPadding": 6, "padding": 0, "labelFont": "DejaVu Sans", "labelFontSize": 12, "labelColor": "#222", "labelOffset": 2, "labelLimit": 400, "symbolType": "stroke", "symbolSize": 1369, "symbolStrokeWidth": 2.5}},
    "strokeDash": {"field": "serie", "type": "nominal", "scale": {"domain": ["ovanför Skrankefoss", "nedanför Skrankefoss", "Trend ovanför Skrankefoss", "Trend nedanför Skrankefoss"], "range": [[1, 0], [1, 0], [1, 0], [6, 4]]},
          "legend": {"orient": "none", "legendX": 152, "legendY": 6, "direction": "horizontal", "title": null, "columns": 2, "columnPadding": 39, "rowPadding": 6, "padding": 0, "labelFont": "DejaVu Sans", "labelFontSize": 12, "labelColor": "#222", "labelOffset": 2, "labelLimit": 400, "symbolType": "stroke", "symbolSize": 1369, "symbolStrokeWidth": 2.5}}
   }},
  {"data": {"name": "sgi"}, "mark": {"type": "point", "shape": "circle", "filled": true, "fill": "#fff6f0", "stroke": "#d23a3a", "strokeWidth": 1, "size": 16, "opacity": 1},
   "encoding": {
    "x": {"field": "ar", "type": "quantitative", "scale": {"domain": [1975.92, 2011.144], "nice": false, "zero": false},
          "axis": {"orient": "top", "offset": -198.5, "values": [1980,1981,1982,1983,1984,1985,1986,1987,1988,1989,1990,1991,1992,1993,1994,1995,1996,1997,1998,1999,2000,2001,2002,2003,2004,2005,2006,2007,2008,2009,2010], "domain": false, "labels": false, "ticks": true, "tickSize": 5, "tickColor": "#444", "tickWidth": 1, "grid": false, "title": null}},
    "y": {"field": "sgi", "type": "quantitative", "scale": {"domain": [-3.585, 3.228], "nice": false, "zero": false},
          "axis": {"orient": "right", "offset": -626, "values": [-3,-2.9333,-2.8667,-2.8,-2.7333,-2.6667,-2.6,-2.5333,-2.4667,-2.4,-2.3333,-2.2667,-2.2,-2.1333,-2.0667,-2,-1.9333,-1.8667,-1.8,-1.7333,-1.6667,-1.6,-1.5333,-1.4667,-1.4,-1.3333,-1.2667,-1.2,-1.1333,-1.0667,-1,-0.9333,-0.8667,-0.8,-0.7333,-0.6667,-0.6,-0.5333,-0.4667,-0.4,-0.3333,-0.2667,-0.2,-0.1333,-0.0667,0,0.0667,0.1333,0.2,0.2667,0.3333,0.4,0.4667,0.5333,0.6,0.6667,0.7333,0.8,0.8667,0.9333,1,1.0667,1.1333,1.2,1.2667,1.3333,1.4,1.4667,1.5333,1.6,1.6667,1.7333,1.8,1.8667,1.9333,2,2.0667,2.1333,2.2,2.2667,2.3333,2.4,2.4667,2.5333,2.6,2.6667,2.7333,2.8,2.8667,2.9333,3], "domain": false, "labels": false, "ticks": true, "tickSize": 4, "tickColor": "#444", "tickWidth": 1, "grid": false, "title": null}}
   }},
  {"data": {"name": "trendOvan"}, "mark": {"type": "line", "strokeWidth": 3, "interpolate": "monotone"},
   "encoding": {
    "x": {"field": "ar", "type": "quantitative", "scale": {"domain": [1975.92, 2011.144], "nice": false, "zero": false}, "axis": null},
    "y": {"field": "sgi", "type": "quantitative", "scale": {"domain": [-3.585, 3.228], "nice": false, "zero": false}, "axis": null},
    "stroke": {"field": "serie", "type": "nominal", "scale": {"domain": ["ovanför Skrankefoss", "nedanför Skrankefoss", "Trend ovanför Skrankefoss", "Trend nedanför Skrankefoss"], "range": ["#2bb32b", "#d8383a", "#000000", "#000000"]},
          "legend": {"orient": "none", "legendX": 152, "legendY": 6, "direction": "horizontal", "title": null, "columns": 2, "columnPadding": 39, "rowPadding": 6, "padding": 0, "labelFont": "DejaVu Sans", "labelFontSize": 12, "labelColor": "#222", "labelOffset": 2, "labelLimit": 400, "symbolType": "stroke", "symbolSize": 1369, "symbolStrokeWidth": 2.5}},
    "strokeDash": {"field": "serie", "type": "nominal", "scale": {"domain": ["ovanför Skrankefoss", "nedanför Skrankefoss", "Trend ovanför Skrankefoss", "Trend nedanför Skrankefoss"], "range": [[1, 0], [1, 0], [1, 0], [6, 4]]},
          "legend": {"orient": "none", "legendX": 152, "legendY": 6, "direction": "horizontal", "title": null, "columns": 2, "columnPadding": 39, "rowPadding": 6, "padding": 0, "labelFont": "DejaVu Sans", "labelFontSize": 12, "labelColor": "#222", "labelOffset": 2, "labelLimit": 400, "symbolType": "stroke", "symbolSize": 1369, "symbolStrokeWidth": 2.5}}
   }},
  {"data": {"name": "trendNedan"}, "mark": {"type": "line", "strokeWidth": 1.3, "interpolate": "monotone"},
   "encoding": {
    "x": {"field": "ar", "type": "quantitative", "scale": {"domain": [1975.92, 2011.144], "nice": false, "zero": false}, "axis": null},
    "y": {"field": "sgi", "type": "quantitative", "scale": {"domain": [-3.585, 3.228], "nice": false, "zero": false}, "axis": null},
    "stroke": {"field": "serie", "type": "nominal", "scale": {"domain": ["ovanför Skrankefoss", "nedanför Skrankefoss", "Trend ovanför Skrankefoss", "Trend nedanför Skrankefoss"], "range": ["#2bb32b", "#d8383a", "#000000", "#000000"]},
          "legend": {"orient": "none", "legendX": 152, "legendY": 6, "direction": "horizontal", "title": null, "columns": 2, "columnPadding": 39, "rowPadding": 6, "padding": 0, "labelFont": "DejaVu Sans", "labelFontSize": 12, "labelColor": "#222", "labelOffset": 2, "labelLimit": 400, "symbolType": "stroke", "symbolSize": 1369, "symbolStrokeWidth": 2.5}},
    "strokeDash": {"field": "serie", "type": "nominal", "scale": {"domain": ["ovanför Skrankefoss", "nedanför Skrankefoss", "Trend ovanför Skrankefoss", "Trend nedanför Skrankefoss"], "range": [[1, 0], [1, 0], [1, 0], [6, 4]]},
          "legend": {"orient": "none", "legendX": 152, "legendY": 6, "direction": "horizontal", "title": null, "columns": 2, "columnPadding": 39, "rowPadding": 6, "padding": 0, "labelFont": "DejaVu Sans", "labelFontSize": 12, "labelColor": "#222", "labelOffset": 2, "labelLimit": 400, "symbolType": "stroke", "symbolSize": 1369, "symbolStrokeWidth": 2.5}}
   }}
], "resolve": {"axis": {"x": "independent", "y": "independent"}}},
{"width": 960, "height": 27, "data": {"values": []}, "mark": "point"},
{"width": 960, "height": 75, "layer": [
  {"data": {"values": [{"rad": 1, "t": "Figur 8."}]}, "mark": {"type": "text", "align": "left", "baseline": "middle", "font": "Liberation Sans", "fontSize": 22, "fontStyle": "italic", "fontWeight": "bold", "color": "#000"}, "encoding": {"x": {"datum": 17, "type": "quantitative", "scale": {"domain": [0, 960], "nice": false, "zero": false}, "axis": null}, "y": {"field": "rad", "type": "ordinal", "scale": {"domain": [1, 2, 3]}, "axis": null}, "text": {"field": "t"}}},
  {"data": {"values": [{"rad": 1, "t": "Diagram som visar medel årlig tillväxt (SGI) för flodpärlmusslor i Fallselva ovanför"}]}, "mark": {"type": "text", "align": "left", "baseline": "middle", "font": "Liberation Sans", "fontSize": 22, "fontStyle": "italic", "color": "#000"}, "encoding": {"x": {"datum": 110, "type": "quantitative", "scale": {"domain": [0, 960], "nice": false, "zero": false}, "axis": null}, "y": {"field": "rad", "type": "ordinal", "scale": {"domain": [1, 2, 3]}, "axis": null}, "text": {"field": "t"}}},
  {"data": {"values": [{"rad": 2, "t": "(grön linje) och nedanför (röd linje) kraftverket i Skrankefoss. Trendkurvorna (svarta) är 6’e"}, {"rad": 3, "t": "grads polynomer."}]}, "mark": {"type": "text", "align": "left", "baseline": "middle", "font": "Liberation Sans", "fontSize": 22, "fontStyle": "italic", "color": "#000"}, "encoding": {"x": {"datum": 17, "type": "quantitative", "scale": {"domain": [0, 960], "nice": false, "zero": false}, "axis": null}, "y": {"field": "rad", "type": "ordinal", "scale": {"domain": [1, 2, 3]}, "axis": null}, "text": {"field": "t"}}}
]},
{"width": 960, "height": 61, "data": {"values": []}, "mark": "point"},
{"width": 960, "height": 20, "data": {"values": [{"t": "17"}]}, "layer": [
  {"mark": {"type": "rule", "color": "#222", "strokeWidth": 1.2}, "encoding": {"x": {"datum": 15, "type": "quantitative", "scale": {"domain": [0, 960], "nice": false, "zero": false}, "axis": null}, "x2": {"datum": 456}, "y": {"datum": 0, "type": "quantitative", "scale": {"domain": [-1, 1]}, "axis": null}}},
  {"mark": {"type": "rule", "color": "#222", "strokeWidth": 1.2}, "encoding": {"x": {"datum": 519, "type": "quantitative", "scale": {"domain": [0, 960], "nice": false, "zero": false}, "axis": null}, "x2": {"datum": 960}, "y": {"datum": 0, "type": "quantitative", "scale": {"domain": [-1, 1]}, "axis": null}}},
  {"mark": {"type": "text", "font": "Liberation Sans", "fontSize": 22, "color": "#000", "baseline": "middle", "dy": -2}, "encoding": {"x": {"datum": 487, "type": "quantitative", "scale": {"domain": [0, 960], "nice": false, "zero": false}, "axis": null}, "y": {"datum": 0, "type": "quantitative", "scale": {"domain": [-1, 1]}, "axis": null}, "text": {"field": "t"}}}
]}
]
}
